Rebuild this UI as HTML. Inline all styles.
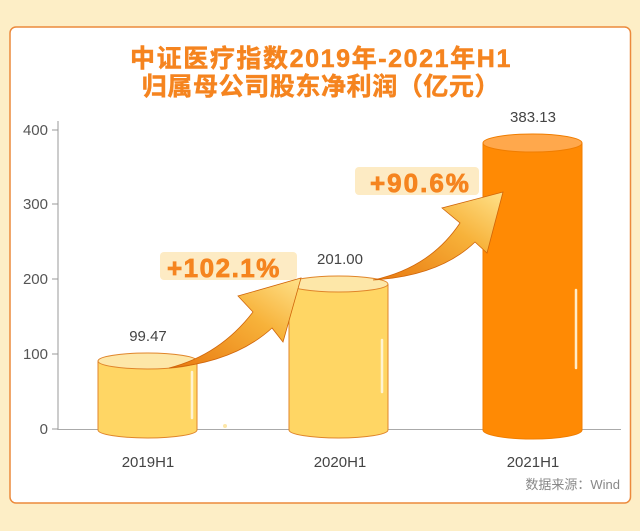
<!DOCTYPE html>
<html><head><meta charset="utf-8"><style>
html,body{margin:0;padding:0;background:#fdeec6;}
body{width:640px;height:531px;overflow:hidden;position:relative;}
</style></head><body>
<svg width="640" height="531" xmlns="http://www.w3.org/2000/svg" style="position:absolute;left:0;top:0">
<defs>
<linearGradient id="ag" x1="0" y1="1" x2="1" y2="0">
<stop offset="0" stop-color="#e8780f"/><stop offset="0.6" stop-color="#f7b23a"/><stop offset="1" stop-color="#ffe28a"/>
</linearGradient>
</defs>
<rect x="10" y="27" width="620.5" height="476" rx="6" fill="#fff" stroke="#ec8a3c" stroke-width="1.5"/>
<g font-family="'Liberation Sans','Noto Sans CJK SC',sans-serif" font-weight="bold" fill="#f5841f" font-size="25" text-anchor="middle" stroke="#f5841f" stroke-width="0.5">
<text x="321" y="67" letter-spacing="1.6">中证医疗指数2019年-2021年H1</text>
<text x="321" y="95" letter-spacing="0.6">归属母公司股东净利润（亿元）</text>
</g>
<line x1="58" y1="121" x2="58" y2="430" stroke="#999" stroke-width="1"/>
<line x1="58" y1="429.5" x2="621" y2="429.5" stroke="#aaa" stroke-width="1"/>
<g stroke="#999"><line x1="52" y1="130" x2="58" y2="130"/><line x1="52" y1="204" x2="58" y2="204"/><line x1="52" y1="279" x2="58" y2="279"/><line x1="52" y1="354" x2="58" y2="354"/><line x1="52" y1="429" x2="58" y2="429"/></g>
<g font-family="'Liberation Sans',sans-serif" font-size="15" fill="#555" text-anchor="end">
<text x="48" y="135">400</text><text x="48" y="209">300</text><text x="48" y="284">200</text><text x="48" y="359">100</text><text x="48" y="434">0</text>
</g>
<g stroke="#e0852a" stroke-width="1">
<path d="M98 361 V430 A49.5 8 0 0 0 197 430 V361" fill="#ffd664"/>
<ellipse cx="147.5" cy="361" rx="49.5" ry="8" fill="#fde7a8"/>
<path d="M289 284 V430 A49.5 8 0 0 0 388 430 V284" fill="#ffd664"/>
<ellipse cx="338.5" cy="284" rx="49.5" ry="8" fill="#fde7a8"/>
<path d="M483 143 V430 A49.5 9 0 0 0 582 430 V143" fill="#ff8a04" stroke="#f07d00"/>
<ellipse cx="532.5" cy="143" rx="49.5" ry="9" fill="#ffa84c" stroke="#f07d00"/>
</g>
<g stroke="#fff7df" stroke-width="2.5" stroke-linecap="round" opacity="0.9">
<line x1="192" y1="372" x2="192" y2="418"/><line x1="382" y1="340" x2="382" y2="392"/><line x1="576" y1="290" x2="576" y2="368"/>
</g>
<g font-family="'Liberation Sans',sans-serif" font-size="15" fill="#444" text-anchor="middle">
<text x="148" y="341">99.47</text><text x="340" y="264">201.00</text><text x="533" y="122">383.13</text>
<text x="148" y="467">2019H1</text><text x="340" y="467">2020H1</text><text x="533" y="467">2021H1</text>
</g>
<text x="620" y="489" font-family="'Liberation Sans','Noto Sans CJK SC',sans-serif" font-size="13" fill="#888" text-anchor="end">数据来源：Wind</text>
<rect x="160" y="252" width="137" height="28" rx="4" fill="#fdebc4"/>
<rect x="355" y="167" width="124" height="28" rx="4" fill="#fdebc4"/>
<g font-family="'Liberation Sans',sans-serif" font-weight="bold" font-size="26" fill="#f5841f" stroke="#f5841f" stroke-width="0.8">
<text x="167" y="277" letter-spacing="1.5">+102.1%</text><text x="370" y="192" letter-spacing="2">+90.6%</text>
</g>
<path d="M169 368 Q220 355 253 312 L238 296 L301 278 L283 342 L272 328 Q235 362 169 368 Z" fill="url(#ag)" stroke="#d0650a" stroke-width="0.8"/>
<path d="M373 280 Q430 268 460 223 L442 208 L503 192 L487 253 L475 242 Q440 276 373 280 Z" fill="url(#ag)" stroke="#d0650a" stroke-width="0.8"/>
<circle cx="225" cy="426" r="2" fill="#fde7a8"/>
</svg>
</body></html>
